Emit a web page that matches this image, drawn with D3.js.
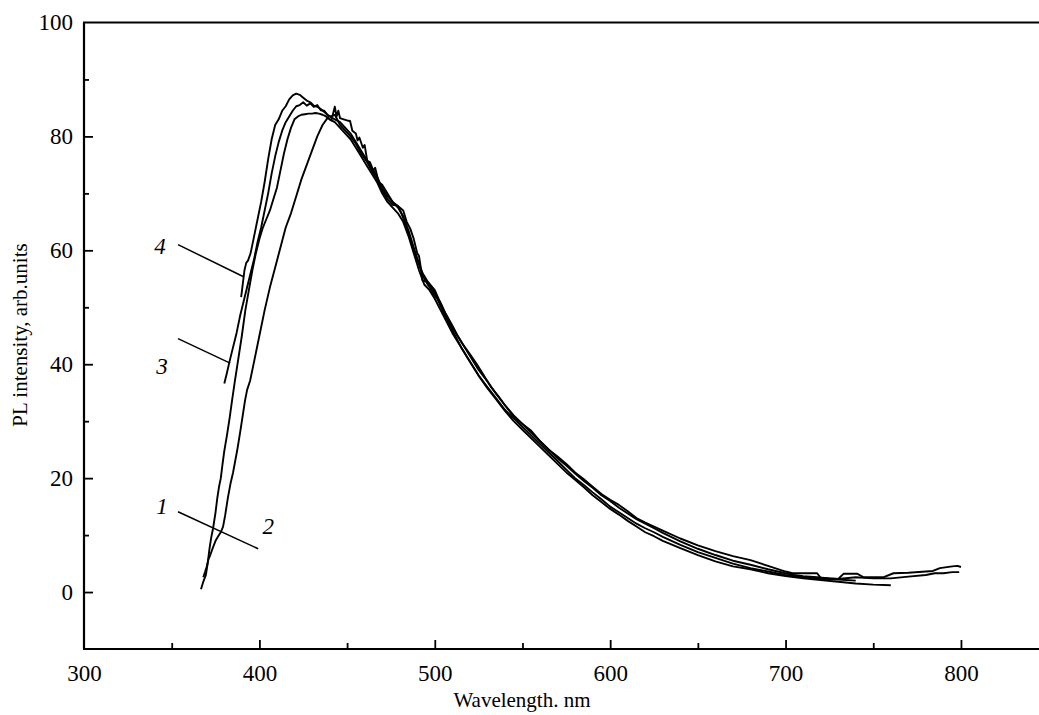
<!DOCTYPE html>
<html>
<head>
<meta charset="utf-8">
<script src="https://cdn.jsdelivr.net/npm/d3@7"></script>
<style>
  html, body { margin: 0; padding: 0; background: #fff; }
  svg { display: block; font-family: "Liberation Serif", "Times New Roman", serif; }
</style>
</head>
<body>
<svg id="chart" width="1039" height="715"></svg>
<script>
// ---- Data (wavelength nm, PL intensity arb.units) ----
const curve1 = [[366.7,0.5],[368,1.8],[369.5,3],[370.5,5],[371.5,7.5],[372.5,9.5],[373.6,11.2],[375,14],[376,16.5],[377,18.5],[378,20],[379,22.5],[380,24.8],[381.5,27.5],[383,30.5],[384.4,33.6],[386,37],[388,41],[390,45],[392,49.5],[394,53],[396,56.5],[398,59.5],[400,62],[402,64],[404,65.5],[406,67],[408,69],[410,71],[412,74],[414,77],[416,79.5],[418,81.5],[420,83],[422,83.5],[424,83.8],[426,83.9],[428,84],[430,84],[432,84.1],[434,84],[436,83.8],[438,83.5],[440,83],[443,82.5],[446,81.5],[449,80.5],[452,79.5],[455,78],[458,76.5],[461,75],[464,73.5],[467,72],[470,70],[473,68.5],[476,67.5],[479,66.5],[482,65],[485,62.5],[488,59.5],[491,56.5],[494,54],[497,53],[500,51.5],[505,48.5],[510,45.5],[515,43],[520,40.5],[525,38],[530,35.8],[535,33.8],[540,31.8],[545,30],[550,28.5],[555,27],[560,25.5],[565,24],[570,22.5],[575,21],[580,19.7],[585,18.4],[590,17],[595,15.8],[600,14.6],[605,13.6],[610,12.5],[615,11.5],[620,10.5],[625,9.8],[630,9],[640,7.7],[650,6.5],[660,5.4],[670,4.5],[680,4.0],[690,3.3],[700,2.8],[710,2.4],[720,2.1],[730,1.8],[740,1.5],[750,1.3],[760,1.2]];

const curve2 = [[368,2.6],[369,3.5],[370,4.5],[371,5.8],[372,6.5],[373.5,7.8],[375,9],[376.5,9.8],[378,10.5],[379.3,11.5],[380.5,13.5],[382,16.5],[383.5,19],[385,21],[387.3,24.8],[389,28],[390.5,31],[391.8,33.6],[393,35.5],[394.7,37.1],[397,40.5],[400,45],[403,49.5],[406,53.5],[409,57],[412,60.5],[415,64],[418,66.5],[421,69.5],[424,72.5],[427,75],[430,77.5],[433,80],[436,82],[439,83.3],[441,82.8],[442,84],[443,85.2],[444,83.5],[445,84.5],[446,83.2],[448,83],[450,82.8],[451.7,82.7],[453,81],[455,80.5],[456,79.3],[457,79.8],[459,78],[460,78.5],[461.5,75.7],[463,75.5],[465,74],[466,74.5],[468,72],[470,71.5],[472,70.5],[474,69.5],[476,68.5],[478,68],[480,67.5],[482,67],[484,65],[486,63.8],[488,62],[490,59.5],[491,59],[492,57],[493,54.7],[495,54.5],[497,53.5],[500,52],[503,51],[506,49],[510,46.8],[513,45],[516,43.5],[520,41.8],[524,40],[528,38],[532,36],[536,34.5],[540,32.8],[545,31],[550,29.5],[555,28.3],[560,26.5],[565,25],[570,23.8],[575,22.5],[580,21],[585,19.8],[590,18.5],[595,17.2],[600,16.2],[605,15.3],[610,14.2],[615,13],[620,12.2],[625,11.5],[630,10.8],[640,9.4],[650,8.2],[660,7.2],[670,6.3],[680,5.6],[690,4.6],[700,3.6],[704,3.3],[710,3.3],[718,3.3],[720,2.5],[725,2.4],[730,2.3],[733,3.2],[741,3.2],[744.5,2.6],[750,2.6],[756,2.6],[761.5,3.3],[770,3.4],[780,3.6],[784,3.7],[788,4.2],[795,4.5],[798,4.6],[800,4.4]];

const curve3 = [[380,36.6],[381.5,38.5],[383,40.5],[385,43],[387,45.5],[389,48.5],[391,51],[393,53.5],[395,56],[397,58.5],[399,61.5],[401,64],[403,67],[405,70],[407,73.5],[409,76.5],[411,79],[413,81],[415,82.5],[417,83.5],[419,84.5],[421,85.3],[423,85.5],[425,86],[427,85.4],[429,85.8],[431,85.2],[433,85.5],[435,84.6],[437,84.5],[439,83.7],[441,83.5],[443,83.8],[446,82],[449,81],[452,80],[455,78.7],[458,77],[461,75.7],[464,74],[467,72.5],[470,70.5],[473,69],[476,68],[479,67.8],[481,66.5],[484,64],[487,61],[490,58.5],[493,56],[496,54.5],[500,53],[505,49.5],[510,46.5],[515,44],[520,41.5],[525,39],[530,37],[535,34.8],[540,32.8],[545,30.8],[550,29.5],[555,28],[560,26.5],[565,25],[570,23.5],[575,22.2],[580,20.8],[585,19.5],[590,18.3],[595,17],[600,16],[605,14.8],[610,13.8],[615,12.8],[620,12],[625,11.2],[630,10.4],[640,8.9],[650,7.6],[660,6.5],[670,5.5],[680,4.8],[690,4],[700,3.3],[705,3.0],[710,2.8],[718,2.6],[725,2.4],[730,2.3],[740,2.6],[750,2.4],[760,2.4],[770,2.7],[780,3.0],[785,3.3],[790,3.3],[795,3.5],[799,3.5]];

const curve4 = [[389.6,51.8],[390.5,54],[391.5,56.5],[392.5,57.8],[393.5,58.2],[395,59.5],[397,62.5],[399,65.5],[401,68.5],[403,72],[405,76],[407,79.5],[409,82],[411,83],[413,84.5],[415,85.3],[417,86.5],[419,87.2],[421,87.5],[423,87.3],[425,86.8],[427,86.3],[429,86],[431,85.4],[433,85.2],[435,84.8],[437,84.3],[440,83.5],[443,83],[446,82.5],[449,81.5],[452,80.5],[455,79],[458,77.5],[461,76],[464,74.5],[467,73],[470,71],[473,69.5],[476,68.5],[479,67.5],[482,66],[485,63.5],[488,60.5],[491,57.5],[494,55],[497,54],[500,52.5],[505,49],[510,46],[515,43],[520,40.5],[525,38],[530,36],[535,34],[540,32],[545,30.5],[550,29],[555,27.5],[560,26],[565,24.5],[570,23],[575,21.5],[580,20],[585,18.8],[590,17.5],[595,16.3],[600,15],[605,14],[610,13],[615,12],[620,11.2],[625,10.5],[630,9.7],[640,8.3],[650,7],[660,6],[670,5],[680,4.2],[690,3.6],[700,3],[710,2.6],[720,2.3],[730,2.2],[740,2.0]];

const xMajorTicks = [300, 400, 500, 600, 700, 800];
const xMinorTicks = [350, 450, 550, 650, 750];
const yMajorTicks = [0, 20, 40, 60, 80, 100];
const yMinorTicks = [-10, 10, 30, 50, 70, 90];

// curve labels: text, label position, leader start, leader end (data units)
const labelNames = ["4", "3", "1", "2"];
const labelPos = [[343.4, 60.8], [344.5, 39.7], [344.5, 15.1], [405.0, 11.6]];
const leaders = [
  [[353.6, 61.0], [390.7, 55.4]],
  [[353.6, 44.5], [383.3, 40.2]],
  [[353.6, 14.1], [399.3, 7.6]]
];

const xLabel = "Wavelength. nm";
const yLabel = "PL intensity, arb.units";

// ---- Drawing ----
const svg = d3.select("#chart");
const x = d3.scaleLinear().domain([300, 844.5]).range([84, 1039]);
const y = d3.scaleLinear().domain([-10, 100]).range([649, 22.5]);

// frame: left axis, top and bottom lines
svg.append("line").attr("x1", x(300)).attr("x2", x(300)).attr("y1", y(100)).attr("y2", y(-10))
  .attr("stroke", "#000").attr("stroke-width", 2.2);
svg.append("line").attr("x1", x(300) - 1).attr("x2", 1039).attr("y1", y(100)).attr("y2", y(100))
  .attr("stroke", "#000").attr("stroke-width", 2.2);
svg.append("line").attr("x1", x(300) - 1).attr("x2", 1039).attr("y1", y(-10)).attr("y2", y(-10))
  .attr("stroke", "#000").attr("stroke-width", 2.2);

function styleAxis(g) {
  g.select(".domain").remove();
  g.selectAll(".tick line").attr("stroke", "#000").attr("stroke-width", 1.8);
  g.selectAll(".tick text").attr("fill", "#000")
    .style("font-family", '"Liberation Serif", "Times New Roman", serif')
    .style("font-size", "23px");
}

// y axis
svg.append("g").attr("transform", `translate(${x(300)},0)`)
  .call(d3.axisLeft(y).tickValues(yMajorTicks.filter(v => v !== 100)).tickSize(-9).tickPadding(11).tickFormat(d3.format("d")))
  .call(styleAxis);
svg.append("g").attr("transform", `translate(${x(300)},0)`)
  .call(d3.axisLeft(y).tickValues([100]).tickSize(0).tickPadding(11).tickFormat(d3.format("d")))
  .call(styleAxis);
svg.append("g").attr("transform", `translate(${x(300)},0)`)
  .call(d3.axisLeft(y).tickValues(yMinorTicks.filter(v => v !== -10)).tickSize(-5).tickFormat(""))
  .call(styleAxis);

// x axis
svg.append("g").attr("transform", `translate(0,${y(-10)})`)
  .call(d3.axisBottom(x).tickValues(xMajorTicks.filter(v => v !== 300)).tickSize(-9).tickPadding(16).tickFormat(d3.format("d")))
  .call(styleAxis);
svg.append("g").attr("transform", `translate(0,${y(-10)})`)
  .call(d3.axisBottom(x).tickValues([300]).tickSize(0).tickPadding(16).tickFormat(d3.format("d")))
  .call(styleAxis);
svg.append("g").attr("transform", `translate(0,${y(-10)})`)
  .call(d3.axisBottom(x).tickValues(xMinorTicks).tickSize(-6).tickFormat(""))
  .call(styleAxis);

// axis titles
svg.append("text").attr("x", 522).attr("y", 707).attr("text-anchor", "middle")
  .style("font-size", "21px").attr("fill", "#000").text(xLabel);
svg.append("text").attr("transform", "translate(27,335) rotate(-90)").attr("text-anchor", "middle")
  .style("font-size", "21px").attr("fill", "#000").text(yLabel);

// curves
const line = d3.line().x(d => x(d[0])).y(d => y(d[1]));
[curve1, curve2, curve3, curve4].forEach(c => {
  svg.append("path").datum(c).attr("d", line)
    .attr("fill", "none").attr("stroke", "#000").attr("stroke-width", 1.9)
    .attr("stroke-linejoin", "round");
});

// leaders
leaders.forEach(l => {
  svg.append("line").attr("x1", x(l[0][0])).attr("y1", y(l[0][1]))
    .attr("x2", x(l[1][0])).attr("y2", y(l[1][1]))
    .attr("stroke", "#000").attr("stroke-width", 1.5);
});
labelNames.forEach((t, i) => {
  svg.append("text").attr("x", x(labelPos[i][0])).attr("y", y(labelPos[i][1]) + 8)
    .attr("text-anchor", "middle").style("font-size", "23px").style("font-style", "italic")
    .attr("fill", "#000").text(t);
});
</script>
</body>
</html>
